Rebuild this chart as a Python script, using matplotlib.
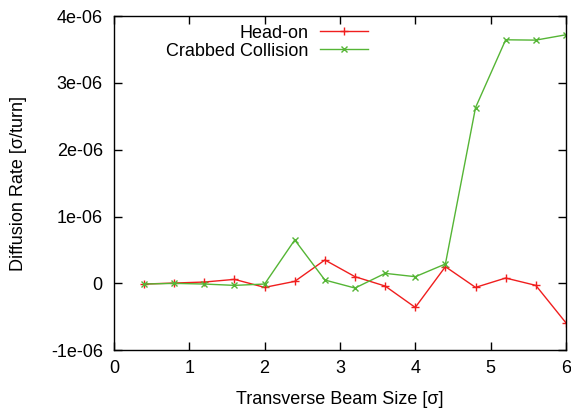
import matplotlib
matplotlib.use("Agg")
from matplotlib import pyplot as plt

plt.rcParams['font.family'] = ['Liberation Sans', 'DejaVu Sans']

# Data
beam_size = [0.4, 0.8, 1.2, 1.6, 2.0, 2.4, 2.8, 3.2, 3.6, 4.0, 4.4, 4.8, 5.2, 5.6, 6.0]
head_on = [-0.01, 0.005, 0.02, 0.06, -0.06, 0.03, 0.35, 0.10, -0.04, -0.36,
           0.25, -0.06, 0.08, -0.03, -0.59]
crabbed = [-0.01, 0.0, -0.01, -0.03, -0.01, 0.65, 0.05, -0.07, 0.15, 0.10,
           0.29, 2.63, 3.645, 3.64, 3.72]
head_on = [v * 1e-6 for v in head_on]
crabbed = [v * 1e-6 for v in crabbed]

y_ticks = [-1e-6, 0, 1e-6, 2e-6, 3e-6, 4e-6]
y_labels = ['-1e-06', '0', '1e-06', '2e-06', '3e-06', '4e-06']
x_ticks = [0, 1, 2, 3, 4, 5, 6]

RED = '#f01e1e'
GREEN = '#55b535'

fig = plt.figure(figsize=(5.71, 4.12), dpi=100)
ax = fig.add_axes([0.1996, 0.150, 0.7915, 0.811])

ax.plot(beam_size, head_on, color=RED, lw=1.0, marker='+', ms=6, mew=1.0,
        label='Head-on')
ax.plot(beam_size, crabbed, color=GREEN, lw=1.0, marker='x', ms=5, mew=1.0,
        label='Crabbed Collision')

ax.set_xlim(0, 6)
ax.set_ylim(-1e-6, 4e-6)
ax.set_xticks(x_ticks)
ax.set_yticks(y_ticks)
ax.set_yticklabels(y_labels)
ax.tick_params(direction='in', length=6, width=1, top=True, right=True,
               labelsize=13, colors='black')
ax.tick_params(axis='y', pad=8)
ax.tick_params(axis='x', pad=7)
for s in ax.spines.values():
    s.set_linewidth(1.0)

ax.set_xlabel('Transverse Beam Size [σ]', fontsize=13, labelpad=10)
ax.set_ylabel('Diffusion Rate [σ/turn]', fontsize=13, labelpad=17)

leg = ax.legend(loc='upper right', bbox_to_anchor=(381 / 571, 1 - 12 / 412),
                bbox_transform=fig.transFigure, frameon=False,
                markerfirst=False, fontsize=13, handlelength=2.7,
                handletextpad=0.6, labelspacing=0.05, borderpad=0.2)
for t in leg.get_texts():
    t.set_ha('right')

fig.savefig('out.png', dpi=100)
